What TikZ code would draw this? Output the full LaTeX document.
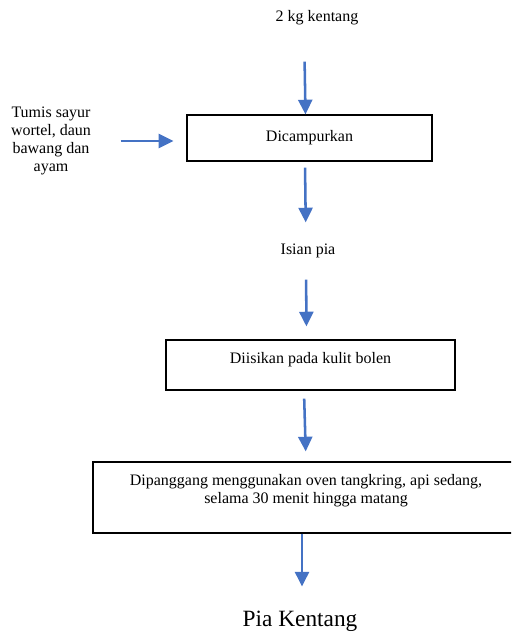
\documentclass[tikz,border=0pt]{standalone}
\usepackage{fontspec}
\setmainfont{Liberation Serif}
\usetikzlibrary{arrows.meta}

\definecolor{panah}{HTML}{4472C4}

\begin{document}
\begin{tikzpicture}[x=0.75pt, y=-0.75pt, font=\fontsize{12}{13.5}\selectfont,
	kotak/.style={draw, line width=0.9pt, inner sep=0pt, align=center},
	teks/.style={inner sep=0pt, align=center},
	alir/.style={draw=panah, line width=1.9pt, -{Triangle[width=10.5pt,length=11pt]}},]
\useasboundingbox (0,0) rectangle (511,632);
\clip (0,0) rectangle (511,632);
\node[teks] (kentang) at (317,18) {2 kg kentang};
\node[teks] (tumis) at (51,141) {Tumis sayur\\wortel, daun\\bawang dan\\ayam};
\node[kotak, minimum width=183.75pt, minimum height=34.5pt] (campur) at (309.5,138) {Dicampurkan};
\node[teks] (isian) at (308,251) {Isian pia};
\node[kotak, minimum width=216.75pt, minimum height=37.5pt] (isi) at (310.5,365) {Diisikan pada kulit bolen\rule[-10pt]{0pt}{0pt}};
\node[kotak, minimum width=319.5pt, minimum height=53.25pt] (oven) at (306,497.5) {Dipanggang menggunakan oven tangkring, api sedang,\\selama 30 menit hingga matang\rule[-12.5pt]{0pt}{0pt}};
\node[teks, font=\fontsize{17.5}{20}\selectfont] (pia) at (300,621) {Pia Kentang};

\draw[alir, shorten <=27pt] ([xshift=-9.75pt]kentang.south) -- ([xshift=-3pt]campur.north);
\draw[alir, shorten <=22pt, shorten >=9.75pt] (tumis.east) -- (tumis.east -| campur.west);
\draw[alir, shorten <=4.5pt, shorten >=16pt] ([xshift=-3.4pt]campur.south) -- ([xshift=-1.5pt]isian.north);
\draw[alir, shorten <=16pt, shorten >=9.75pt] ([xshift=-1.5pt]isian.south) -- ([xshift=-3pt]isi.north);
\draw[alir, shorten <=6pt, shorten >=7.5pt] ([xshift=-4.9pt]isi.south) -- ([xshift=0pt]oven.north);
\draw[alir, shorten >=18pt] ([xshift=-3pt]oven.south) -- ([xshift=1.5pt]pia.north);
\end{tikzpicture}
\end{document}
